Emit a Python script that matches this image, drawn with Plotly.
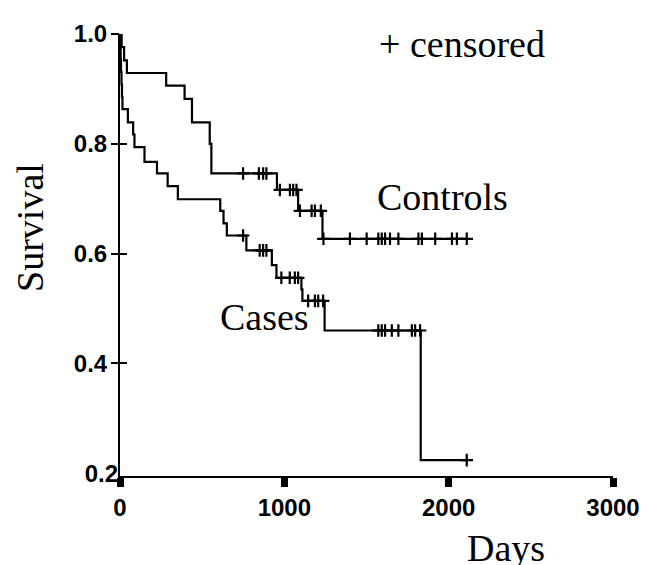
import plotly.graph_objects as go

# ---- data (days, survival) ----
ctrl_event_days = [10, 25, 42, 281, 393, 438, 546, 556, 955, 1084, 1232]
ctrl_surv = [0.976, 0.952, 0.929, 0.906, 0.882, 0.839, 0.80, 0.746, 0.716, 0.678, 0.627]
ctrl_censor_days = [749, 845, 871, 891, 973, 1034, 1054, 1074, 1095, 1166, 1186, 1222,
                    1238, 1399, 1501, 1572, 1593, 1613, 1643, 1694, 1816, 1837, 1918,
                    2020, 2050, 2110]

case_event_days = [2, 4, 6, 9, 12, 15, 48, 80, 88, 149, 225, 290, 352, 610, 630, 650,
                   769, 924, 952, 1104, 1110, 1245, 1830]
case_surv = [0.977, 0.954, 0.931, 0.908, 0.885, 0.863, 0.839, 0.817, 0.794, 0.767, 0.746,
             0.723, 0.699, 0.678, 0.655, 0.633, 0.606, 0.579, 0.556, 0.535, 0.514, 0.460,
             0.224]
case_censor_days = [749, 850, 871, 891, 982, 1033, 1064, 1084, 1145, 1186, 1206, 1236,
                    1572, 1593, 1613, 1654, 1694, 1776, 1796, 1826, 2110]

x_ticks = [0, 1000, 2000, 3000]
y_ticks = [0.2, 0.4, 0.6, 0.8, 1.0]
y_tick_labels = ["0.2", "0.4", "0.6", "0.8", "1.0"]


def km_path(days, surv, censors):
    end = max(max(censors), max(days))
    xs = [0] + list(days) + [end]
    ys = [1.0] + list(surv) + [surv[-1]]
    return xs, ys


def surv_at(t, days, surv):
    s = 1.0
    for d, v in zip(days, surv):
        if d <= t:
            s = v
    return s


fig = go.Figure()
for days, surv, cens in [(ctrl_event_days, ctrl_surv, ctrl_censor_days),
                         (case_event_days, case_surv, case_censor_days)]:
    xs, ys = km_path(days, surv, cens)
    fig.add_trace(go.Scatter(x=xs, y=ys, mode="lines", line_shape="hv",
                             line=dict(color="black", width=2.2), showlegend=False,
                             hoverinfo="skip"))
    fig.add_trace(go.Scatter(x=cens, y=[surv_at(t, days, surv) for t in cens],
                             mode="markers",
                             marker=dict(symbol="cross-thin", size=9,
                                         line=dict(color="black", width=2.2)),
                             showlegend=False, hoverinfo="skip"))

# empty helper traces so the overlay axes (extra tick styling) get drawn
for ax in ["y2", "y3"]:
    fig.add_trace(go.Scatter(x=[None], y=[None], yaxis=ax, mode="markers",
                             showlegend=False, hoverinfo="skip"))

serif = "Liberation Serif, Times New Roman, serif"
sans = "Liberation Sans, Arial, sans-serif"
tickfont = dict(family=sans, size=24, color="black", weight="bold")

fig.update_layout(
    width=666, height=565,
    margin=dict(l=112, r=61, t=17, b=97),
    paper_bgcolor="white", plot_bgcolor="white",
    xaxis=dict(range=[0, 3000], tickvals=x_ticks, ticks="outside", ticklen=9,
               tickwidth=7, tickcolor="black", showline=True, linecolor="black",
               linewidth=2, showgrid=False, zeroline=False, ticklabelstandoff=0,
               tickfont=tickfont),
    yaxis=dict(range=[0.195, 1.0], tickvals=y_ticks[1:], ticktext=y_tick_labels[1:],
               ticks="inside", ticklen=7, tickwidth=2, tickcolor="black",
               showline=True, linecolor="black", linewidth=2, showgrid=False,
               zeroline=False, ticklabelstandoff=6, tickfont=tickfont),
    yaxis2=dict(range=[0.195, 1.0], tickvals=y_ticks[1:], overlaying="y", side="left",
                anchor="x", ticks="outside", ticklen=8, tickwidth=2, tickcolor="black",
                showticklabels=False, showline=False, showgrid=False, zeroline=False),
    yaxis3=dict(range=[0.195, 1.0], tickvals=y_ticks[:1], ticktext=y_tick_labels[:1],
                overlaying="y", side="left", anchor="x", ticks="", showline=False,
                showgrid=False, zeroline=False, ticklabelstandoff=1, tickfont=tickfont),
)

fig.add_annotation(x=2084, y=0.982, xref="x", yref="y", text="+ censored",
                   showarrow=False, font=dict(family=serif, size=38, color="black"),
                   xanchor="center", yanchor="middle")
fig.add_annotation(x=1962, y=0.703, xref="x", yref="y", text="Controls",
                   showarrow=False, font=dict(family=serif, size=38, color="black"),
                   xanchor="center", yanchor="middle")
fig.add_annotation(x=882, y=0.484, xref="x", yref="y", text="Cases",
                   showarrow=False, font=dict(family=serif, size=38, color="black"),
                   xanchor="center", yanchor="middle")
fig.add_annotation(x=2349, y=-0.162, xref="x", yref="paper", text="Days",
                   showarrow=False, font=dict(family=serif, size=38, color="black"),
                   xanchor="center", yanchor="middle")
fig.add_annotation(x=-0.183, y=0.563, xref="paper", yref="paper", text="Survival",
                   textangle=-90, showarrow=False,
                   font=dict(family=serif, size=38, color="black"),
                   xanchor="center", yanchor="middle")

fig.write_html("out.html")
